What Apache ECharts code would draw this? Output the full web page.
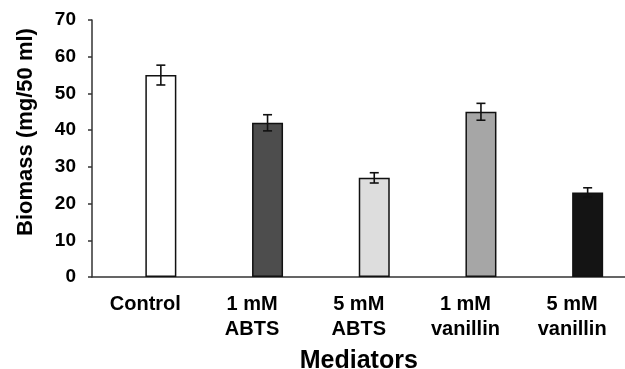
<!DOCTYPE html>
<html>
<head>
<meta charset="utf-8">
<script src="https://cdn.jsdelivr.net/npm/echarts@6/dist/echarts.min.js"></script>
<style>html,body{margin:0;padding:0;background:#fff}#c{width:625px;height:369px}</style>
</head>
<body>
<div id="c"></div>
<script>
const categories = ['Control', '1 mM\nABTS', '5 mM\nABTS', '1 mM\nvanillin', '5 mM\nvanillin'];
const biomass = [55, 42, 27, 45, 23];
const errors = [2.7, 2.2, 1.4, 2.3, 1.3];
const barColors = ['#ffffff', '#4d4d4d', '#dddddd', '#a6a6a6', '#141414'];
const yTicks = [0, 10, 20, 30, 40, 50, 60, 70];

const BAR_W = 31;
const chart = echarts.init(document.getElementById('c'), null, {renderer: 'canvas'});
const font = 'Liberation Sans, Arial, sans-serif';

chart.setOption({
  animation: false,
  backgroundColor: '#fff',
  grid: {left: 92, top: 20, bottom: 92, width: 533.5, containLabel: false, outerBoundsMode: 'none'},
  xAxis: {
    type: 'category',
    data: categories,
    boundaryGap: true,
    name: 'Mediators',
    nameLocation: 'middle',
    nameGap: 72,
    nameTextStyle: {fontFamily: font, fontWeight: 'bold', fontSize: 25, color: '#000', verticalAlign: 'top'},
    axisLine: {lineStyle: {color: '#333', width: 1.5}},
    axisTick: {length: 6, lineStyle: {color: '#333', width: 1.5}, alignWithLabel: false},
    axisLabel: {fontFamily: font, fontWeight: 'bold', fontSize: 20, color: '#000', margin: 15, lineHeight: 25, interval: 0},
    splitLine: {show: false}
  },
  yAxis: {
    type: 'value',
    min: yTicks[0],
    max: yTicks[yTicks.length - 1],
    interval: 10,
    name: 'Biomass (mg/50 ml)',
    nameLocation: 'middle',
    nameGap: 55,
    nameRotate: 90,
    nameTextStyle: {fontFamily: font, fontWeight: 'bold', fontSize: 22, color: '#000', padding: [0, 0, 0, 33]},
    axisLine: {show: true, lineStyle: {color: '#333', width: 1.5}},
    axisTick: {show: true, length: 4, lineStyle: {color: '#333', width: 1.5}},
    axisLabel: {fontFamily: font, fontWeight: 'bold', fontSize: 19, color: '#000', margin: 16},
    splitLine: {show: false}
  },
  series: [
    {type: 'bar', data: categories.map(() => '-'), barWidth: BAR_W, barGap: '0%', silent: true},
    {
      type: 'bar',
      barWidth: BAR_W,
      barGap: '0%',
      data: biomass.map((v, i) => ({value: v, itemStyle: {color: barColors[i]}})),
      itemStyle: {borderColor: '#111', borderWidth: 1.5}
    },
    {
      type: 'custom',
      data: biomass.map((v, i) => [i, v - errors[i], v + errors[i]]),
      z: 10,
      renderItem: function (params, api) {
        const lo = api.coord([api.value(0), api.value(1)]);
        const hi = api.coord([api.value(0), api.value(2)]);
        const x = lo[0] + BAR_W / 2;
        const hw = 4.5;
        const st = {stroke: '#111', lineWidth: 1.6};
        return {type: 'group', children: [
          {type: 'line', shape: {x1: x, y1: lo[1], x2: x, y2: hi[1]}, style: st},
          {type: 'line', shape: {x1: x - hw, y1: lo[1], x2: x + hw, y2: lo[1]}, style: st},
          {type: 'line', shape: {x1: x - hw, y1: hi[1], x2: x + hw, y2: hi[1]}, style: st}
        ]};
      }
    }
  ]
});
</script>
</body>
</html>
